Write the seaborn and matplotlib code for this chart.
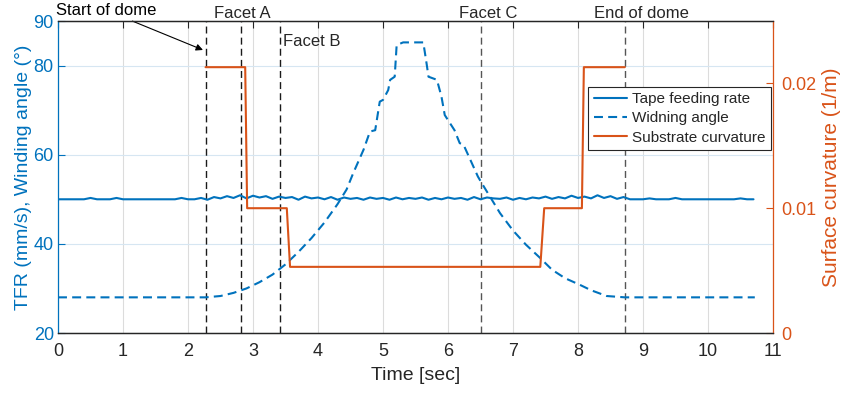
import numpy as np
import pandas as pd
import matplotlib
matplotlib.use("Agg")
import matplotlib.pyplot as plt
import seaborn as sns

# ---------------- data ----------------
tfr_time = np.round(np.arange(0, 10.75, 0.1), 2)
tfr = [
    50.0, 50.0, 50.0, 50.0, 50.0, 50.3, 50.0, 50.0, 50.0, 50.3,
    50.0, 50.0, 50.0, 50.0, 50.0, 50.0, 50.0, 50.0, 50.0, 50.3,
    50.0, 50.0, 50.3, 49.9, 50.5, 50.2, 50.7, 50.3, 50.9, 50.2,
    50.8, 50.4, 50.7, 50.1, 50.6, 50.3, 50.5, 49.9, 50.6, 50.2,
    50.4, 50.0, 50.5, 49.9, 50.4, 50.1, 50.3, 49.9, 50.4, 50.1,
    50.3, 49.9, 50.4, 50.0, 50.3, 50.1, 50.4, 49.9, 50.3, 50.0,
    50.4, 50.1, 50.3, 49.9, 50.5, 50.0, 50.4, 50.2, 50.1, 50.4,
    49.9, 50.3, 50.0, 50.4, 50.2, 50.6, 50.1, 50.5, 50.2, 50.8,
    50.3, 50.6, 50.2, 50.9, 50.3, 50.7, 50.1, 50.5, 50.0, 50.0,
    50.0, 50.2, 50.0, 50.0, 50.0, 50.3, 50.0, 50.0, 50.0, 50.0,
    50.0, 50.0, 50.0, 50.0, 50.0, 50.2, 50.0, 50.0,
]

angle_time = [0.0, 2.27, 2.5, 2.7, 2.9, 3.1, 3.3, 3.5, 3.7, 3.9, 4.1, 4.3,
              4.44, 4.54, 4.70, 4.80, 4.88, 4.95, 5.0, 5.08, 5.11, 5.18,
              5.21, 5.31, 5.62, 5.67, 5.70, 5.83, 5.90, 5.95, 6.1, 6.18,
              6.24, 6.46, 6.52, 6.8, 7.0, 7.2, 7.42, 7.6, 7.8, 8.03, 8.2,
              8.44, 8.72, 10.72]
angle = [28.0, 28.0, 28.3, 29.0, 30.0, 31.4, 33.1, 35.4, 38.2, 41.3, 44.8,
         48.9, 52.2, 55.8, 61.1, 65.2, 65.5, 71.9, 72.3, 74.5, 76.8, 77.5,
         84.6, 85.2, 85.2, 80.5, 77.5, 76.8, 73.0, 68.9, 65.5, 62.6, 62.2,
         55.1, 53.6, 46.9, 43.0, 39.8, 36.8, 34.2, 32.3, 30.8, 29.6, 28.3,
         28.0, 28.0]

curv_time = [2.27, 2.88, 2.91, 3.52, 3.57, 7.42, 7.48, 8.06, 8.09, 8.72]
curvature = [0.0213, 0.0213, 0.0100, 0.0100, 0.0053, 0.0053, 0.0100,
             0.0100, 0.0213, 0.0213]

event_time = [2.27, 2.81, 3.41, 6.51, 8.72]
event_label = ["Start of dome", "Facet A", "Facet B", "Facet C", "End of dome"]

x_ticks = list(range(0, 12))
left_ticks = [20, 40, 60, 80, 90]
right_ticks = [0, 0.01, 0.02]

# ---------------- style ----------------
sns.set_style("white")
plt.rcParams['font.family'] = ['Liberation Sans', 'DejaVu Sans']
BLUE = "#0072BD"
ORANGE = "#D95319"
DARK = "#262626"

fig = plt.figure(figsize=(8.41, 3.94), dpi=100)
ax = fig.add_axes([58 / 841, 1 - 333 / 394, 715 / 841, 312 / 394])
ax2 = ax.twinx()

df_tfr = pd.DataFrame({"t": tfr_time, "v": tfr})
df_ang = pd.DataFrame({"t": angle_time, "v": angle})
df_cur = pd.DataFrame({"t": curv_time, "v": curvature})

sns.lineplot(data=df_tfr, x="t", y="v", ax=ax, color=BLUE, lw=1.5,
             label="Tape feeding rate", legend=False)
sns.lineplot(data=df_ang, x="t", y="v", ax=ax, color=BLUE, lw=1.5,
             dashes=False, label="Widning angle", legend=False)
ax.lines[-1].set_dashes((4.3, 2.5))
sns.lineplot(data=df_cur, x="t", y="v", ax=ax2, color=ORANGE, lw=1.5,
             label="Substrate curvature", legend=False)

# vertical event lines
for i, t in enumerate(event_time):
    c = "#1a1a1a" if i < 3 else "#555555"
    ax.axvline(t, color=c, lw=1.0, ls=(0, (5, 3)), zorder=1)

ax.set_xlim(0, 11)
ax.set_ylim(20, 90)
ax2.set_ylim(0, 0.025)
ax.set_xticks(x_ticks)
ax.set_yticks(left_ticks)
ax2.set_yticks(right_ticks)
ax2.set_yticklabels(["0", "0.01", "0.02"])

ax.grid(True, axis="x", color="#dcdcdc", lw=0.8)
ax.grid(True, axis="y", color="#d6e6f2", lw=0.8)
ax.set_axisbelow(True)

ax.set_xlabel("Time [sec]", fontsize=14, color=DARK, labelpad=5)
ax.set_ylabel("TFR (mm/s), Winding angle (°)", fontsize=14, color=BLUE, labelpad=1)
ax2.set_ylabel("Surface curvature (1/m)", fontsize=15, color=ORANGE, labelpad=4)

ax.tick_params(axis="x", direction="in", length=5, top=True, labelsize=13,
               colors=DARK, pad=7)
ax.tick_params(axis="y", direction="in", length=5, labelsize=13, colors=BLUE, pad=3)
ax2.tick_params(axis="y", direction="in", length=5, labelsize=13, colors=ORANGE, pad=6)

for a in (ax, ax2):
    a.spines["top"].set_color(DARK)
    a.spines["bottom"].set_color(DARK)
    a.spines["left"].set_color(BLUE)
    a.spines["right"].set_color(ORANGE)
    for s in a.spines.values():
        s.set_linewidth(0.9)
ax2.spines["left"].set_visible(False)
ax.spines["right"].set_visible(False)

# annotations
ax.annotate(event_label[0], xy=(2.23, 83.5), xytext=(0.74, 92.4),
            ha="center", va="center", fontsize=12, color="black",
            annotation_clip=False,
            arrowprops=dict(arrowstyle="-|>", color="black", lw=0.8,
                            shrinkA=0, shrinkB=0, mutation_scale=10))
ax.text(2.83, 91.7, event_label[1], ha="center", va="center", fontsize=12, clip_on=False)
ax.text(3.46, 85.3, event_label[2], ha="left", va="center", fontsize=12)
ax.text(6.62, 91.7, event_label[3], ha="center", va="center", fontsize=12, clip_on=False)
ax.text(8.97, 91.7, event_label[4], ha="center", va="center", fontsize=12, clip_on=False)

# legend
handles = ax.get_lines()[:2] + ax2.get_lines()[:1]
leg = ax2.legend(handles, ["Tape feeding rate", "Widning angle", "Substrate curvature"],
                 loc="upper right", bbox_to_anchor=(0.997, 0.79), fontsize=11,
                 frameon=True, fancybox=False, framealpha=1, edgecolor=DARK,
                 handlelength=2.2, handletextpad=0.3, borderpad=0.35,
                 labelspacing=0.35, borderaxespad=0)
leg.get_frame().set_linewidth(0.8)

fig.savefig("out.png", dpi=100)
